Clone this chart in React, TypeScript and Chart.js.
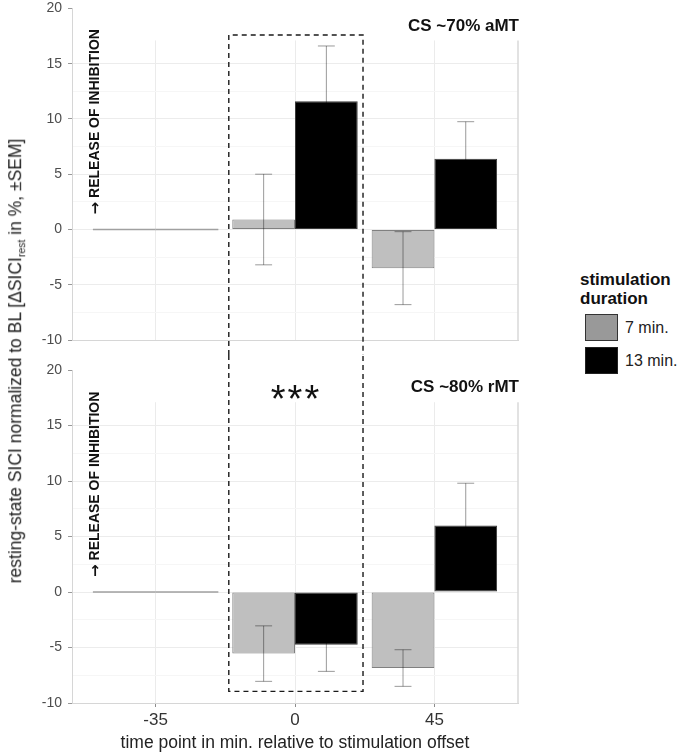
import { useEffect, useRef } from 'react';
import { Chart, registerables } from 'chart.js';

Chart.register(...registerables);

const FONT = '"Liberation Sans", Arial, Helvetica, sans-serif';

// time points (min. relative to stimulation offset), drawn at x = 1, 2, 3
const timePoints = ['-35', '0', '45'];
const xPositions = [1, 2, 3];

// CS ~70% aMT
const aMT7 = [0, 0.9, -3.5];
const aMT7Sem = [0, 4.1, 3.3];
const aMT13 = [0, 11.6, 6.4];
const aMT13Sem = [0, 5.0, 3.35];

// CS ~80% rMT
const rMT7 = [0, -5.55, -6.85];
const rMT7Sem = [0, 2.5, 1.65];
const rMT13 = [0, -4.75, 6.0];
const rMT13Sem = [0, 2.4, 3.8];

interface PanelProps {
    title: string;
    seven: number[];
    sevenSem: number[];
    thirteen: number[];
    thirteenSem: number[];
    bottom: boolean;
    top: number;
    height: number;
}

function Panel({ title, seven, sevenSem, thirteen, thirteenSem, bottom, top, height }: PanelProps) {
    const chartRef = useRef<HTMLCanvasElement>(null);
    const chartInstance = useRef<Chart | null>(null);

    useEffect(() => {
        if (!chartRef.current) return;
        if (chartInstance.current) chartInstance.current.destroy();

        const values = [seven, thirteen];
        const sems = [sevenSem, thirteenSem];

        const annotate = {
            id: 'annotate',
            beforeDatasetsDraw(chart: any) {
                const { ctx, chartArea: a, scales: { y } } = chart;
                const yMask = y.getPixelForValue(17.1);
                ctx.save();
                // white strip behind the panel label
                ctx.fillStyle = '#ffffff';
                ctx.fillRect(a.left + 1, a.top - 1, a.right - a.left + 3, yMask - a.top + 1);
                // right panel edge
                ctx.strokeStyle = '#d9d9d9';
                ctx.lineWidth = 1.5;
                ctx.beginPath();
                ctx.moveTo(a.right, yMask);
                ctx.lineTo(a.right, a.bottom);
                ctx.stroke();
                ctx.restore();
            },
            afterDatasetsDraw(chart: any) {
                const { ctx, chartArea: a, scales: { x, y } } = chart;
                ctx.save();

                // error bars (±SEM)
                ctx.strokeStyle = 'rgba(0,0,0,0.4)';
                ctx.lineWidth = 1;
                for (let d = 0; d < 2; d++) {
                    const meta = chart.getDatasetMeta(d);
                    meta.data.forEach((el: any, j: number) => {
                        const s = sems[d][j];
                        if (!s) return;
                        const v = values[d][j];
                        const yHi = y.getPixelForValue(v + s);
                        const yLo = y.getPixelForValue(v - s);
                        const half = el.width * 0.135;
                        ctx.beginPath();
                        ctx.moveTo(el.x, yHi);
                        ctx.lineTo(el.x, yLo);
                        ctx.moveTo(el.x - half, yHi);
                        ctx.lineTo(el.x + half, yHi);
                        ctx.moveTo(el.x - half, yLo);
                        ctx.lineTo(el.x + half, yLo);
                        ctx.stroke();
                    });
                }

                // dashed box around time point 0 (spans both panels)
                const x1 = x.getPixelForValue(1.525);
                const x2 = x.getPixelForValue(2.488);
                ctx.strokeStyle = '#1a1a1a';
                ctx.lineWidth = 1.4;
                ctx.setLineDash([5, 4]);
                ctx.beginPath();
                if (bottom) {
                    const yb = y.getPixelForValue(-8.95);
                    ctx.moveTo(x1, 0);
                    ctx.lineTo(x1, yb);
                    ctx.lineTo(x2, yb);
                    ctx.lineTo(x2, 0);
                } else {
                    const yt = y.getPixelForValue(17.6);
                    ctx.moveTo(x1, chart.height);
                    ctx.lineTo(x1, yt);
                    ctx.lineTo(x2, yt);
                    ctx.lineTo(x2, chart.height);
                }
                ctx.stroke();
                ctx.setLineDash([]);

                // panel label
                ctx.fillStyle = '#111111';
                ctx.font = `bold 17px ${FONT}`;
                ctx.textAlign = 'right';
                ctx.textBaseline = 'middle';
                ctx.fillText(title, a.right + 1, y.getPixelForValue(18.4));

                // direction note
                ctx.save();
                ctx.translate(x.getPixelForValue(0.565), y.getPixelForValue(0) - 15);
                ctx.rotate(-Math.PI / 2);
                ctx.textAlign = 'left';
                ctx.textBaseline = 'middle';
                ctx.font = `bold 15px "DejaVu Sans", ${FONT}`;
                ctx.fillText('\u2192', 0, 1);
                const aw = ctx.measureText('\u2192').width;
                ctx.font = `bold 14px ${FONT}`;
                ctx.fillText('RELEASE OF INHIBITION', aw + 4, 0);
                ctx.restore();

                if (bottom) {
                    ctx.font = `38px ${FONT}`;
                    (ctx as any).letterSpacing = '2px';
                    ctx.textAlign = 'center';
                    ctx.textBaseline = 'alphabetic';
                    ctx.fillStyle = '#111111';
                    ctx.fillText('***', x.getPixelForValue(2) + 1, y.getPixelForValue(16.2));
                    (ctx as any).letterSpacing = '0px';
                }
                ctx.restore();
            },
        };

        const isZero = (c: any) => c.raw && c.raw.y === 0;

        chartInstance.current = new Chart(chartRef.current, {
            type: 'bar',
            data: {
                datasets: [
                    {
                        label: '7 min.',
                        data: xPositions.map((xv, i) => ({ x: xv, y: seven[i] })),
                        backgroundColor: (c: any) => (isZero(c) ? '#a0a0a0' : '#bfbfbf'),
                        borderColor: '#808080',
                        borderWidth: (c: any) => (isZero(c) ? 0 : 1),
                        borderSkipped: false,
                        categoryPercentage: 0.9,
                        barPercentage: 1,
                        minBarLength: 1.5,
                    },
                    {
                        label: '13 min.',
                        data: xPositions.map((xv, i) => ({ x: xv, y: thirteen[i] })),
                        backgroundColor: (c: any) => (isZero(c) ? '#a0a0a0' : '#000000'),
                        borderColor: '#3a3a3a',
                        borderWidth: (c: any) => (isZero(c) ? 0 : 1),
                        borderSkipped: false,
                        categoryPercentage: 0.9,
                        barPercentage: 1,
                        minBarLength: 1.5,
                    },
                ],
            } as any,
            options: {
                animation: false,
                responsive: false,
                maintainAspectRatio: false,
                layout: { padding: { top: bottom ? 15 : 9, right: 27, left: 0, bottom: 0 } },
                plugins: {
                    legend: { display: false },
                    tooltip: { enabled: false },
                },
                scales: {
                    x: {
                        type: 'linear',
                        min: 0.4,
                        max: 3.6,
                        offset: false,
                        afterBuildTicks: (s: any) => {
                            s.ticks = xPositions.map(v => ({ value: v }));
                        },
                        afterFit: (s: any) => {
                            s.height = bottom ? 53 : 15;
                        },
                        grid: {
                            offset: false,
                            color: '#ebebeb',
                            drawTicks: bottom,
                            tickLength: 4,
                            tickColor: '#8c8c8c',
                        },
                        border: { color: '#d6d6d6' },
                        ticks: {
                            display: bottom,
                            padding: 3,
                            color: '#333333',
                            font: { family: FONT, size: 17 },
                            callback: (v: any) => timePoints[xPositions.indexOf(Number(v))] ?? '',
                        },
                        title: {
                            display: bottom,
                            text: 'time point in min. relative to stimulation offset',
                            color: '#222222',
                            font: { family: FONT, size: 17.5 },
                            padding: { top: 0, bottom: 2 },
                        },
                    },
                    y: {
                        min: -10,
                        max: 20,
                        afterFit: (s: any) => {
                            s.width = 72;
                        },
                        ticks: {
                            stepSize: 2.5,
                            autoSkip: false,
                            padding: 6,
                            color: '#4d4d4d',
                            font: { family: FONT, size: 14 },
                            callback: (v: any) => (Number(v) % 5 === 0 ? String(v) : ''),
                        },
                        grid: {
                            color: (c: any) => (c.tick && c.tick.value % 5 === 0 ? '#ececec' : '#f6f6f6'),
                            tickLength: 4,
                            tickColor: (c: any) => (c.tick && c.tick.value % 5 === 0 ? '#999999' : 'rgba(0,0,0,0)'),
                        },
                        border: { color: '#d6d6d6' },
                    },
                },
            } as any,
            plugins: [annotate],
        });

        return () => {
            if (chartInstance.current) {
                chartInstance.current.destroy();
                chartInstance.current = null;
            }
        };
    }, [title, seven, sevenSem, thirteen, thirteenSem, bottom]);

    return (
        <canvas
            ref={chartRef}
            width={545}
            height={height}
            style={{ position: 'absolute', left: 0, top, width: 545, height }}
        />
    );
}

export default function App() {
    useEffect(() => {
        document.body.style.margin = '0';
    }, []);

    return (
        <div style={{ position: 'relative', width: 680, height: 756, background: '#ffffff', fontFamily: FONT, overflow: 'hidden' }}>
            <Panel
                title="CS ~70% aMT"
                seven={aMT7}
                sevenSem={aMT7Sem}
                thirteen={aMT13}
                thirteenSem={aMT13Sem}
                bottom={false}
                top={-6}
                height={361}
            />
            <Panel
                title="CS ~80% rMT"
                seven={rMT7}
                sevenSem={rMT7Sem}
                thirteen={rMT13}
                thirteenSem={rMT13Sem}
                bottom={true}
                top={355}
                height={401}
            />

            <div
                style={{
                    position: 'absolute',
                    left: 18,
                    top: 361,
                    transform: 'translate(-50%, -50%) rotate(-90deg)',
                    whiteSpace: 'nowrap',
                    fontSize: 17.5,
                    color: '#222222',
                    lineHeight: '20px',
                }}
            >
                resting-state SICI normalized to BL [ΔSICI
                <sub style={{ fontSize: '0.6em', verticalAlign: '-0.35em' }}>rest</sub> in %, ±SEM]
            </div>

            <div style={{ position: 'absolute', left: 580, top: 269.5 }}>
                <div style={{ fontWeight: 'bold', fontSize: 17, lineHeight: '19px', color: '#111111' }}>
                    stimulation
                    <br />
                    duration
                </div>
                <div style={{ display: 'flex', alignItems: 'center', marginTop: 6.5, marginLeft: 5 }}>
                    <div style={{ width: 33, height: 27, boxSizing: 'border-box', border: '1.5px solid #333333', background: '#999999' }} />
                    <span style={{ marginLeft: 7, fontSize: 16, color: '#222222' }}>7 min.</span>
                </div>
                <div style={{ display: 'flex', alignItems: 'center', marginTop: 6, marginLeft: 5 }}>
                    <div style={{ width: 33, height: 27, boxSizing: 'border-box', border: '1.5px solid #222222', background: '#000000' }} />
                    <span style={{ marginLeft: 7, fontSize: 16, color: '#222222' }}>13 min.</span>
                </div>
            </div>
        </div>
    );
}
